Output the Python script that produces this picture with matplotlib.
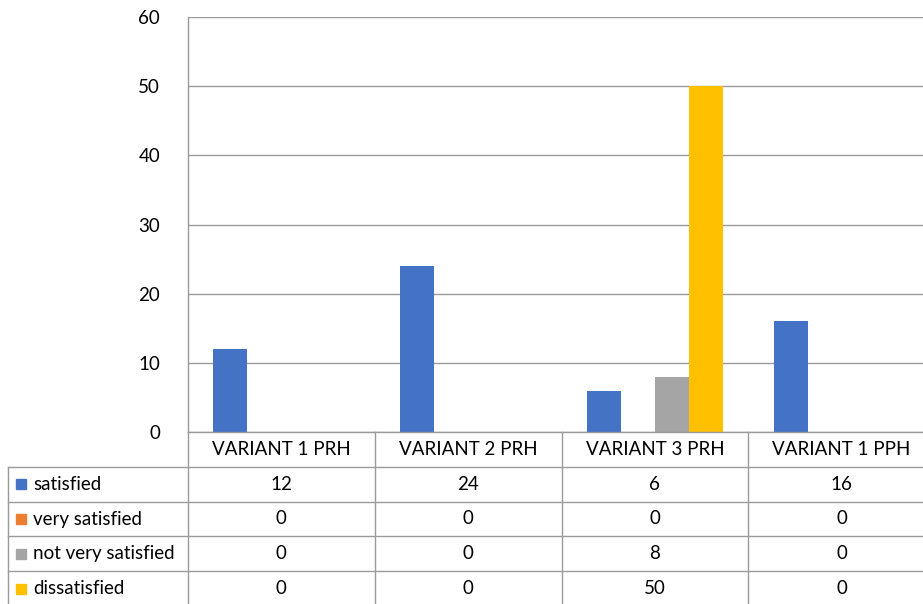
import numpy as np
import matplotlib
matplotlib.use("Agg")
import matplotlib.pyplot as plt

plt.rcParams['font.family'] = ['Lato', 'DejaVu Sans']

categories = ["VARIANT 1 PRH", "VARIANT 2 PRH", "VARIANT 3 PRH", "VARIANT 1 PPH"]
series_names = ["satisfied", "very satisfied", "not very satisfied", "dissatisfied"]
satisfied = [12, 24, 6, 16]
very_satisfied = [0, 0, 0, 0]
not_very_satisfied = [0, 0, 8, 0]
dissatisfied = [0, 0, 50, 0]
colors = ["#4472C4", "#ED7D31", "#A5A5A5", "#FFC000"]

series = [satisfied, very_satisfied, not_very_satisfied, dissatisfied]

W, H = 923, 604
line_col = "#9a9a9a"
fs = 13.5

fig = plt.figure(figsize=(W / 100, H / 100), dpi=100)

# plot area in pixels (it runs a bit past the right edge of the figure)
px_left, px_right = 188, 935
px_top, px_bottom = 17, 432
ax = fig.add_axes([px_left / W, (H - px_bottom) / H,
                   (px_right - px_left) / W, (px_bottom - px_top) / H])

x = np.arange(len(categories))
bw = 0.182
for i, (vals, c) in enumerate(zip(series, colors)):
    ax.bar(x + (i - 1.5) * bw, vals, width=bw, color=c, zorder=3)

ax.set_xlim(-0.5, len(categories) - 0.5)
ax.set_ylim(0, 60)
ax.set_yticks(range(0, 61, 10))
ax.yaxis.grid(True, color=line_col, lw=1)
ax.set_xticks([])
ax.tick_params(axis='y', length=0, pad=20, labelsize=fs)
for s in ["top", "right", "bottom"]:
    ax.spines[s].set_visible(False)
ax.spines["left"].set_color(line_col)
ax.spines["left"].set_linewidth(1)

# data table underneath the chart, drawn in pixel space
tab = fig.add_axes([0, 0, 1, 1], zorder=5)
tab.set_xlim(0, W)
tab.set_ylim(H, 0)
tab.axis("off")

colw = (px_right - px_left) / len(categories)
col_edges = [px_left + k * colw for k in range(len(categories) + 1)]
row_h = 34.8
row_edges = [px_bottom + k * row_h for k in range(len(series) + 2)]
tab_left = 8

# horizontal rules
tab.plot([px_left, px_right], [row_edges[0]] * 2, color=line_col, lw=1)
for y in row_edges[1:]:
    tab.plot([tab_left, px_right], [y, y], color=line_col, lw=1)
# vertical rules
tab.plot([tab_left, tab_left], [row_edges[1], row_edges[-1]], color=line_col, lw=1)
for xe in col_edges:
    tab.plot([xe, xe], [row_edges[0], row_edges[-1]], color=line_col, lw=1)

for j, cat in enumerate(categories):
    cx = (col_edges[j] + col_edges[j + 1]) / 2
    tab.text(cx, (row_edges[0] + row_edges[1]) / 2, cat, ha="center", va="center", fontsize=fs)

for i, (name, vals, c) in enumerate(zip(series_names, series, colors)):
    cy = (row_edges[i + 1] + row_edges[i + 2]) / 2
    tab.add_patch(plt.Rectangle((16, cy - 5), 10, 10, color=c))
    tab.text(33, cy, name, ha="left", va="center", fontsize=fs)
    for j, v in enumerate(vals):
        cx = (col_edges[j] + col_edges[j + 1]) / 2
        tab.text(cx, cy, str(v), ha="center", va="center", fontsize=fs)

fig.savefig("out.png", dpi=100)
